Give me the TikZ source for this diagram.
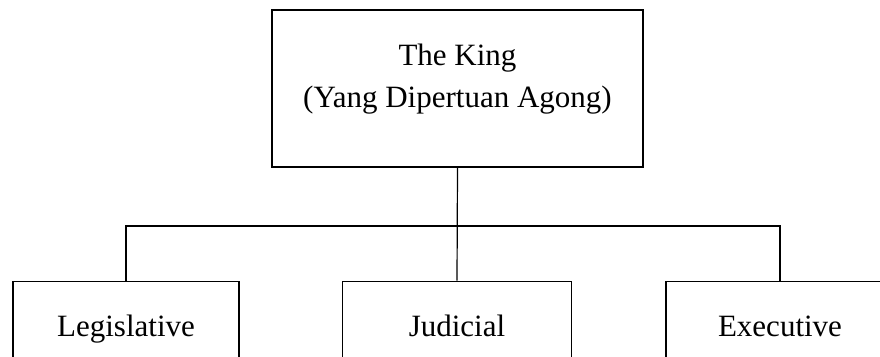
\documentclass[tikz,border=0pt]{standalone}
\usepackage{fontspec}
\setmainfont{Liberation Serif}
\begin{document}
\begin{tikzpicture}[x=1pt,y=-1pt,
  box/.style={draw=black,line width=1.3pt,rectangle,inner sep=0pt},
  lbl/.style={anchor=base,inner sep=0pt,font=\fontsize{31}{37}\selectfont},
  conn/.style={draw=black,line width=1.2pt}]
\useasboundingbox (0,0) rectangle (880,356);
\clip (0,0) rectangle (880,356);
% top box
\node[box,minimum width=371pt,minimum height=157pt] (king) at (457.5,88.5) {};
\node[lbl] (kingA) at (457.5,65) {The King};
\node[lbl] (kingB) at (457.5,107) {(Yang Dipertuan Agong)};
% bottom boxes
\node[box,anchor=north,minimum width=226pt,minimum height=130pt] (leg) at (126,280.5) {};
\node[box,anchor=north,minimum width=229pt,minimum height=130pt] (jud) at (457,280.5) {};
\node[box,anchor=north,minimum width=228pt,minimum height=130pt] (exe) at (780,280.5) {};
\node[lbl] (legT) at (126,336) {Legislative};
\node[lbl] (judT) at (457,336) {Judicial};
\node[lbl] (exeT) at (780,336) {Executive};
% connectors
\coordinate (bus) at (457,226);
\draw[conn] (king.south) -- (jud.north);
\draw[conn] (leg.north) -- (leg.north |- bus) -- (exe.north |- bus) -- (exe.north);
\end{tikzpicture}
\end{document}
